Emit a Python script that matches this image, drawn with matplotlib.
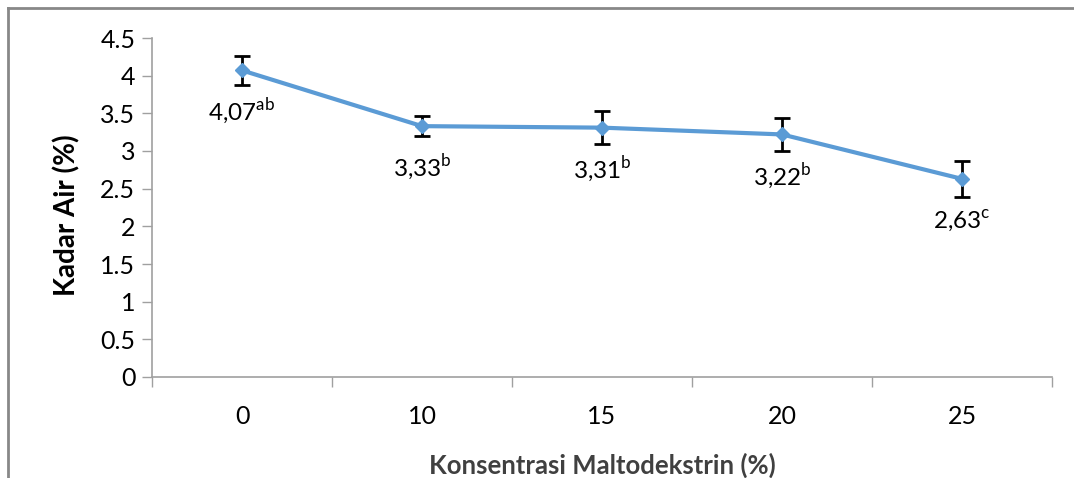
import matplotlib
matplotlib.use("Agg")
import matplotlib.pyplot as plt
from matplotlib.lines import Line2D

plt.rcParams["mathtext.fontset"] = "custom"
plt.rcParams["mathtext.rm"] = "Lato"

categories = ["0", "10", "15", "20", "25"]
values = [4.07, 3.33, 3.31, 3.22, 2.63]
errors = [0.19, 0.13, 0.22, 0.22, 0.24]
value_labels = ["4,07", "3,33", "3,31", "3,22", "2,63"]
letters = ["ab", "b", "b", "b", "c"]
yticks = [0, 0.5, 1, 1.5, 2, 2.5, 3, 3.5, 4, 4.5]
ytick_labels = ["0", "0.5", "1", "1.5", "2", "2.5", "3", "3.5", "4", "4.5"]

W, H = 1074, 478
fig = plt.figure(figsize=(W / 100, H / 100), dpi=100)
ax = fig.add_axes([152 / W, 1 - 377 / H, 900 / W, 339 / H])

x = list(range(len(categories)))
ax.plot(x, values, color="#5B9BD5", lw=3, marker="D", ms=7, zorder=3)
ax.errorbar(x, values, yerr=errors, fmt="none", ecolor="black", elinewidth=2,
            capsize=6, capthick=2, zorder=2)

for xi, v, lab, let in zip(x, values, value_labels, letters):
    ax.annotate(lab + r"$^{\mathrm{" + let + "}}$", (xi, v), xytext=(0, -42),
                textcoords="offset pixels",
                ha="center", va="center", fontsize=17.5, color="black",
                family="Lato")

ax.set_xlim(-0.5, len(categories) - 0.5)
ax.set_ylim(0, 4.5)
ax.set_yticks(yticks)
ax.set_yticklabels(ytick_labels, fontsize=18, family="Lato")
ax.set_xticks(x)
ax.set_xticklabels(categories, fontsize=18, family="Lato")
ax.tick_params(axis="x", length=0, pad=20)
ax.set_xticks([i - 0.5 for i in range(len(categories) + 1)], minor=True)
ax.tick_params(axis="x", which="minor", length=7, color="#A0A0A0", width=1)
ax.tick_params(axis="y", length=7, color="#A0A0A0", width=1, pad=5)

for s in ["top", "right"]:
    ax.spines[s].set_visible(False)
for s in ["left", "bottom"]:
    ax.spines[s].set_color("#A0A0A0")
    ax.spines[s].set_linewidth(1.2)

fig.text(67 / W, 1 - 215 / H, "Kadar Air (%)", rotation=90, ha="center", va="center",
         fontsize=20, fontweight="bold", family="Lato")
fig.text(602 / W, 1 - 465 / H, "Konsentrasi Maltodekstrin (%)", ha="center", va="center",
         fontsize=18.5, fontweight="bold", color="#404040", family="Lato")

fig.add_artist(Line2D([8 / W, 1], [1 - 8 / H, 1 - 8 / H], transform=fig.transFigure,
                      color="#888888", lw=2))
fig.add_artist(Line2D([8 / W, 8 / W], [0, 1 - 8 / H], transform=fig.transFigure,
                      color="#888888", lw=2))

fig.savefig("out.png", dpi=100)
